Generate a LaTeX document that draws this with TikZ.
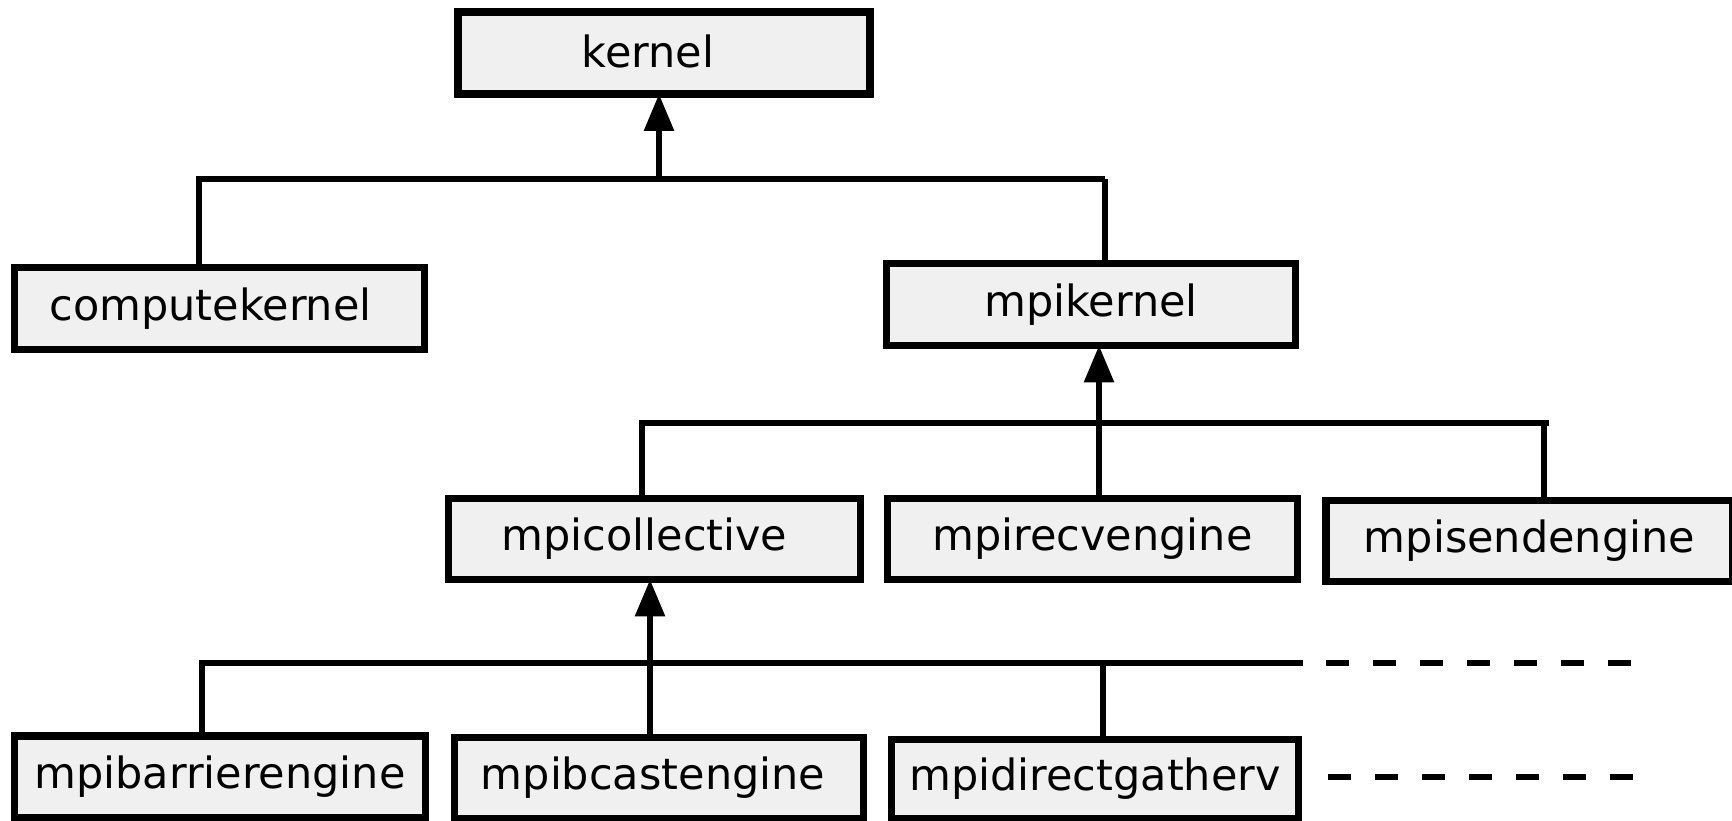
\documentclass[tikz,border=0pt]{standalone}
\usepackage{fontspec}
\setmainfont{DejaVu Sans}
\usetikzlibrary{arrows.meta}
\definecolor{boxgray}{HTML}{F0F0F0}
\begin{document}
\begin{tikzpicture}[x=0.5pt,y=-0.5pt,
  cls/.style={draw=black, line width=3.75pt, fill=boxgray, inner sep=0pt,
    font=\fontsize{21.5pt}{25pt}\selectfont},
  link/.style={draw=black, line width=3pt},
  inherit/.style={link, -{Triangle[length=18.5pt,width=14.5pt]}, shorten >=-1.9pt},
  more/.style={draw=black, line width=3pt, dash pattern=on 11.5pt off 12pt}]
\useasboundingbox (0,0) rectangle (1732,820);
% classes
\node[cls, minimum width=206pt, minimum height=41pt] (kernel) at (664,53) {\hspace*{-16pt}\raisebox{1.5pt}{kernel}};
\node[cls, minimum width=205pt, minimum height=41pt] (ck) at (219.5,308.5) {\hspace*{-9pt}\raisebox{1.5pt}{computekernel}};
\node[cls, minimum width=204.5pt, minimum height=41pt] (mk) at (1091,304.5) {\raisebox{1.5pt}{mpikernel}};
\node[cls, minimum width=206pt, minimum height=40.5pt] (mc) at (654.5,539) {\hspace*{-10pt}\raisebox{1.5pt}{mpicollective}};
\node[cls, minimum width=205pt, minimum height=40.5pt] (mr) at (1092.5,539) {\raisebox{1.5pt}{mpirecvengine}};
\node[cls, minimum width=203.5pt, minimum height=40.5pt] (ms) at (1529.5,541) {\raisebox{1.5pt}{mpisendengine}};
\node[cls, minimum width=205.5pt, minimum height=41pt] (mb) at (220,777) {\raisebox{1.5pt}{mpibarrierengine}};
\node[cls, minimum width=204.5pt, minimum height=40.5pt] (mbc) at (659,778) {\hspace*{-6pt}\raisebox{1.5pt}{mpibcastengine}};
\node[cls, minimum width=203.5pt, minimum height=39.5pt] (mg) at (1095,779) {\raisebox{1.5pt}{mpidirectgatherv}};
% bus 1
\coordinate (b1l) at (199,179);
\coordinate (b1r) at (1105,179);
\coordinate (b1a) at (659,179);
\draw[link] (b1l |- ck.north) -- (b1l) -- (b1r);
\draw[link] (b1r) -- (b1r |- mk.north);
\draw[inherit] (b1a) -- (b1a |- kernel.south);
% bus 2
\coordinate (b2l) at (642,423);
\coordinate (b2r) at (1549,423);
\coordinate (b2s) at (1544,423);
\coordinate (b2a) at (1099,423);
\draw[link] (b2l |- mc.north) -- (b2l) -- (b2r);
\draw[link] (b2s) -- (b2s |- ms.north);
\draw[inherit] (b2a |- mr.north) -- (b2a |- mk.south);
% bus 3
\coordinate (b3l) at (202,663);
\coordinate (b3r) at (1303,663);
\coordinate (b3g) at (1103,663);
\coordinate (b3a) at (650,663);
\coordinate (d1s) at (1326,663);
\coordinate (d1e) at (1631,663);
\draw[link] (b3l |- mb.north) -- (b3l) -- (b3r);
\draw[link] (b3g) -- (b3g |- mg.north);
\draw[inherit] (b3a |- mbc.north) -- (b3a |- mc.south);
\draw[more] (d1s) -- (d1e);
% more classes
\coordinate (d2s) at (1328,777);
\coordinate (d2e) at (1633,777);
\draw[more] (d2s) -- (d2e);
\end{tikzpicture}
\end{document}
